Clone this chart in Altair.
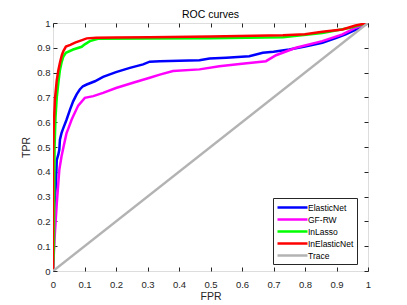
import altair as alt
import pandas as pd

series_names = ["ElasticNet", "GF-RW", "InLasso", "InElasticNet", "Trace"]
series_colors = ["#0000ff", "#ff00ff", "#00ff00", "#ff0000", "#b3b3b3"]

elastic_fpr = [0, 0.003, 0.006, 0.009, 0.012, 0.017, 0.02, 0.022, 0.027, 0.033, 0.043, 0.054, 0.064, 0.075,
               0.085, 0.095, 0.107, 0.133, 0.159, 0.2, 0.244, 0.286, 0.307, 0.339, 0.40, 0.465, 0.497, 0.55,
               0.623, 0.666, 0.70, 0.75, 0.80, 0.855, 0.90, 0.929, 0.96, 1.0]
elastic_tpr = [0, 0.2, 0.3, 0.34, 0.448, 0.47, 0.489, 0.529, 0.556, 0.577, 0.61, 0.651, 0.684, 0.712,
               0.732, 0.745, 0.752, 0.765, 0.783, 0.802, 0.819, 0.833, 0.844, 0.846, 0.848, 0.850, 0.857, 0.86,
               0.866, 0.880, 0.884, 0.893, 0.905, 0.920, 0.94, 0.954, 0.972, 1.0]

gfrw_fpr = [0, 0.003, 0.006, 0.012, 0.02, 0.027, 0.035, 0.043, 0.048, 0.059, 0.064, 0.08, 0.101, 0.128,
            0.159, 0.2, 0.254, 0.307, 0.339, 0.381, 0.465, 0.528, 0.60, 0.676, 0.708, 0.771, 0.855, 0.919,
            0.961, 1.0]
gfrw_tpr = [0, 0.08, 0.153, 0.273, 0.408, 0.462, 0.51, 0.556, 0.572, 0.61, 0.624, 0.667, 0.698, 0.705,
            0.718, 0.738, 0.759, 0.779, 0.792, 0.806, 0.813, 0.826, 0.836, 0.846, 0.870, 0.900, 0.927, 0.954,
            0.981, 1.0]

inlasso_fpr = [0, 0.003, 0.004, 0.005, 0.008, 0.012, 0.017, 0.022, 0.027, 0.033, 0.041, 0.064, 0.091,
               0.101, 0.117, 0.143, 0.307, 0.5, 0.73, 0.855, 0.94, 1.0]
inlasso_tpr = [0, 0.1, 0.35, 0.5, 0.62, 0.70, 0.759, 0.81, 0.84, 0.865, 0.880, 0.893, 0.904,
               0.914, 0.927, 0.936, 0.937, 0.939, 0.943, 0.96, 0.98, 1.0]

inelastic_fpr = [0, 0, 0.002, 0.006, 0.012, 0.017, 0.022, 0.028, 0.033, 0.041, 0.055, 0.070, 0.09, 0.107,
                 0.138, 0.2, 0.307, 0.5, 0.73, 0.8, 0.855, 0.919, 0.96, 1.0]
inelastic_tpr = [0, 0.45, 0.57, 0.69, 0.77, 0.81, 0.84, 0.87, 0.887, 0.905, 0.912, 0.921, 0.93, 0.938,
                 0.941, 0.942, 0.943, 0.946, 0.951, 0.955, 0.965, 0.974, 0.99, 1.0]

trace_fpr = [0, 1]
trace_tpr = [0, 1]

tick_values = [0, 0.1, 0.2, 0.3, 0.4, 0.5, 0.6, 0.7, 0.8, 0.9, 1]

rows = []
for name, fx, ty in zip(series_names,
                        [elastic_fpr, gfrw_fpr, inlasso_fpr, inelastic_fpr, trace_fpr],
                        [elastic_tpr, gfrw_tpr, inlasso_tpr, inelastic_tpr, trace_tpr]):
    for i, (a, b) in enumerate(zip(fx, ty)):
        rows.append({"series": name, "fpr": a, "tpr": b, "idx": i})
df = pd.DataFrame(rows)

FONT = "Liberation Sans"
AX = "#262626"

xscale = alt.Scale(domain=[0, 1], nice=False, zero=False)
yscale = alt.Scale(domain=[0, 1], nice=False, zero=False)

lines = alt.Chart(df).mark_line(strokeWidth=2.5, clip=True).encode(
    x=alt.X("fpr:Q", scale=xscale,
            axis=alt.Axis(values=tick_values, format="~g", title="FPR", orient="bottom",
                          offset=-4, tickSize=4, domain=False, grid=False, labelPadding=8,
                          labelFont=FONT, labelFontSize=9.5, labelColor=AX, tickColor=AX,
                          titleFont=FONT, titleFontSize=10.5, titleFontWeight="normal",
                          titleColor=AX, titlePadding=3, labelFlush=False)),
    y=alt.Y("tpr:Q", scale=yscale,
            axis=alt.Axis(values=tick_values, format="~g", title="TPR", orient="left",
                          offset=-4, tickSize=4, domain=False, grid=False, labelPadding=3,
                          labelFont=FONT, labelFontSize=9.5, labelColor=AX, tickColor=AX,
                          titleFont=FONT, titleFontSize=10.5, titleFontWeight="normal",
                          titleColor=AX, titlePadding=5, labelFlush=False)),
    color=alt.Color("series:N", scale=alt.Scale(domain=series_names, range=series_colors),
                    legend=alt.Legend(title=None, orient="none", legendX=220, legendY=175,
                                      fillColor="white", strokeColor=AX, padding=3,
                                      symbolType="M-3,0H3", symbolSize=100, symbolStrokeWidth=2.5,
                                      symbolOffset=10,
                                      labelFont=FONT, labelFontSize=8.5, labelColor="black",
                                      labelOffset=9, rowPadding=0, symbolOpacity=1)),
    order="idx:Q",
)

frame = alt.Chart(df).mark_point(opacity=0).encode(
    x=alt.X("fpr:Q", scale=xscale,
            axis=alt.Axis(values=tick_values, orient="top", labels=False, title=None,
                          offset=-4, tickSize=4, domain=False, grid=False, tickColor=AX)),
    y=alt.Y("tpr:Q", scale=yscale,
            axis=alt.Axis(values=tick_values, orient="right", labels=False, title=None,
                          offset=-4, tickSize=4, domain=False, grid=False, tickColor=AX)),
)

chart = alt.layer(lines, frame).resolve_axis(x="independent", y="independent").properties(
    width=315, height=248,
    title=alt.TitleParams("ROC curves", font=FONT, fontSize=10.5, fontWeight="normal",
                          color="black", offset=-2),
    padding={"left": 45, "top": 15, "right": 31, "bottom": 34},
    autosize=alt.AutoSizeParams(type="none"),
).configure_view(stroke=AX, strokeWidth=1).configure(background="white")

chart.save("out.html", embed_options={"renderer": "svg", "actions": False})
